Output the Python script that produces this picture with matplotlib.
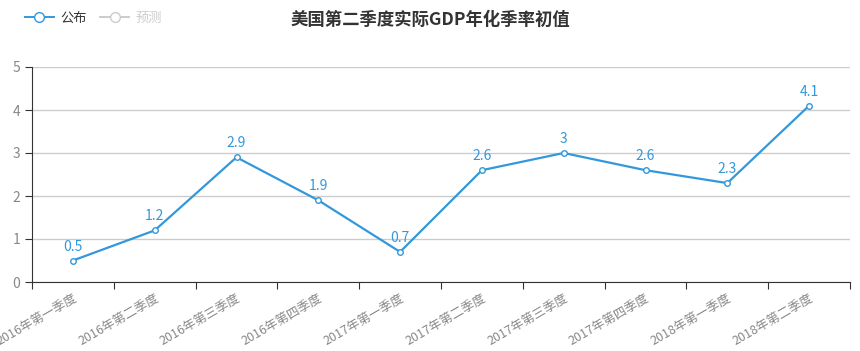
import matplotlib
matplotlib.use('Agg')
import matplotlib.pyplot as plt
from matplotlib.lines import Line2D

plt.rcParams['font.family'] = ['Noto Sans CJK SC', 'DejaVu Sans']

quarters = ['2016年第一季度', '2016年第二季度', '2016年第三季度', '2016年第四季度',
            '2017年第一季度', '2017年第二季度', '2017年第三季度', '2017年第四季度',
            '2018年第一季度', '2018年第二季度']
gdp = [0.5, 1.2, 2.9, 1.9, 0.7, 2.6, 3.0, 2.6, 2.3, 4.1]
labels = ['0.5', '1.2', '2.9', '1.9', '0.7', '2.6', '3', '2.6', '2.3', '4.1']

blue = '#3398db'
grey = '#888888'

fig = plt.figure(figsize=(8.6, 3.51), dpi=100)
ax = fig.add_axes([32/860, 69/351, 818/860, 215/351])

x = list(range(len(quarters)))
ax.plot(x, gdp, color=blue, lw=1.6, marker='o', ms=4, mfc='white', mec=blue, mew=1, zorder=3)
for xi, yi, t in zip(x, gdp, labels):
    ax.annotate(t, (xi, yi), xytext=(0, 5), textcoords='offset points',
                ha='center', va='bottom', color=blue, fontsize=10)

ax.set_xlim(-0.5, len(quarters) - 0.5)
ax.set_ylim(0, 5)
ax.set_yticks(range(6))
ax.yaxis.grid(True, color='#cccccc', lw=1)
ax.set_axisbelow(True)

# category boundaries as ticks, labels at centers
ax.set_xticks([i - 0.5 for i in range(len(quarters) + 1)])
ax.set_xticklabels([])
ax.set_xticks(x, minor=True)
ax.set_xticklabels(quarters, minor=True, rotation=30, ha='right', rotation_mode='anchor',
                   fontsize=9, color=grey)
ax.tick_params(axis='x', which='minor', length=0, pad=7)
ax.tick_params(axis='x', which='major', length=5, color='#333333', direction='out')
ax.tick_params(axis='y', length=5, color='#333333', labelsize=10, labelcolor=grey)

for s in ['top', 'right']:
    ax.spines[s].set_visible(False)
ax.spines['left'].set_color('#333333')
ax.spines['bottom'].set_color('#333333')

fig.text(0.5, 1 - 20/351, '美国第二季度实际GDP年化季率初值', ha='center', va='center',
         fontsize=12.5, fontweight='bold', color='#333333')

handles = [Line2D([], [], color=blue, lw=1.4, marker='o', ms=7, mfc='white', mec=blue),
           Line2D([], [], color='#cccccc', lw=1.4, marker='o', ms=7, mfc='white', mec='#cccccc')]
leg = fig.legend(handles, ['公布', '预测'], loc='upper left', bbox_to_anchor=(0.015, 1.0),
                 ncol=2, frameon=False, fontsize=9.5, handlelength=2.2, columnspacing=1.0,
                 handletextpad=0.5)
leg.get_texts()[0].set_color('#333333')
leg.get_texts()[1].set_color('#cccccc')

fig.savefig('out.png', dpi=100)
